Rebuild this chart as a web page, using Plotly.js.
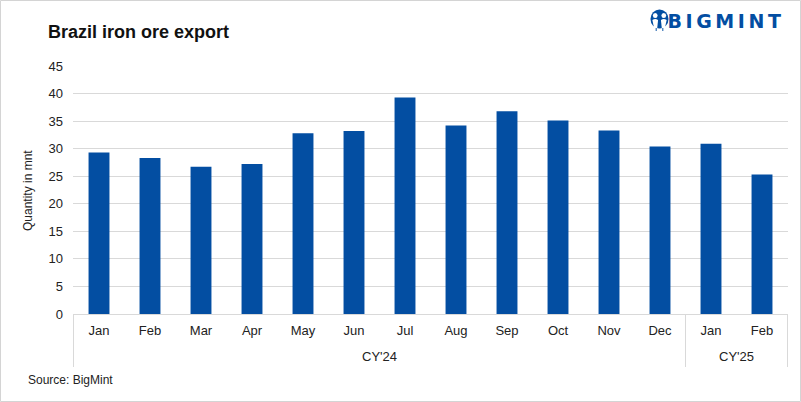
<!DOCTYPE html>
<html>
<head>
<meta charset="utf-8">
<script src="https://cdn.plot.ly/plotly-3.0.1.min.js"></script>
<style>
html,body{margin:0;padding:0;background:#fff;}
#chart{width:801px;height:402px;}
</style>
</head>
<body>
<div id="chart"></div>
<script>
const months = ['Jan','Feb','Mar','Apr','May','Jun','Jul','Aug','Sep','Oct','Nov','Dec','Jan','Feb'];
const years = ["CY'24","CY'24","CY'24","CY'24","CY'24","CY'24","CY'24","CY'24","CY'24","CY'24","CY'24","CY'24","CY'25","CY'25"];
const exportsMnt = [29.3, 28.3, 26.7, 27.2, 32.8, 33.2, 39.3, 34.2, 36.8, 35.1, 33.3, 30.4, 30.9, 25.3];
const yTicks = [0,5,10,15,20,25,30,35,40,45];

const W = 801, H = 402;
const L = 73, R = 13, T = 66, B = 88;
const pw = W - L - R, ph = H - T - B;
const px = v => (v - L) / pw;
const py = v => (H - B - v) / ph;

// category keys (unique per month+year), shown with month tick text
const cats = months.map((m, i) => m + ' ' + years[i]);

// year groups: first/last category index
const groups = [];
years.forEach((y, i) => {
  const g = groups[groups.length - 1];
  if (g && g.name === y) g.end = i; else groups.push({name: y, start: i, end: i});
});

const iconSvg = 'data:image/svg+xml;utf8,' + encodeURIComponent(
 '<svg xmlns="http://www.w3.org/2000/svg" width="40" height="46" viewBox="0 0 40 46">' +
 '<circle cx="20" cy="20" r="19" fill="#034ea2"/>' +
 '<circle cx="11" cy="13" r="5" fill="#fff"/><circle cx="29" cy="13" r="5" fill="#fff"/>' +
 '<path d="M5 22 Q11 18 17 22 L15 40 L9 40 Z" fill="#fff"/>' +
 '<path d="M23 22 Q29 18 35 22 L31 40 L25 40 Z" fill="#fff"/>' +
 '<circle cx="20" cy="20" r="3.5" fill="#034ea2"/>' +
 '<rect x="12" y="38" width="2" height="6" fill="#034ea2"/><rect x="26" y="38" width="2" height="6" fill="#034ea2"/>' +
 '</svg>');

const trace = {
  type: 'bar',
  x: cats,
  y: exportsMnt,
  marker: {color: '#034ea2'},
  hoverinfo: 'y'
};

const annotations = [
  {text: 'Quantity in mnt', xref: 'paper', yref: 'paper', x: px(28), y: py(190), textangle: -90,
   showarrow: false, xanchor: 'center', yanchor: 'middle', font: {size: 12, color: '#222'}},
  {text: 'Source: BigMint', xref: 'paper', yref: 'paper', x: px(26), y: py(380),
   showarrow: false, xanchor: 'left', yanchor: 'middle', font: {size: 12, color: '#222'}},
  {text: 'BIGMINT', xref: 'paper', yref: 'paper', x: px(678), y: py(21),
   showarrow: false, xanchor: 'left', yanchor: 'middle',
   font: {family: '"DejaVu Sans", sans-serif', size: 19, color: '#034ea2', weight: 'bold'}}
];
const shapes = [
  {type: 'rect', xref: 'paper', yref: 'paper', x0: px(0.5), x1: px(800.5), y0: py(401.5), y1: py(0.5),
   line: {color: '#d4d4d4', width: 1}, fillcolor: 'rgba(0,0,0,0)', layer: 'below'}
];
groups.forEach((g, k) => {
  annotations.push({text: g.name, xref: 'x', yref: 'paper', x: (g.start + g.end) / 2, y: py(356),
    showarrow: false, xanchor: 'center', yanchor: 'middle', font: {size: 13, color: '#222'}});
  if (k === 0) shapes.push({type: 'line', xref: 'x', yref: 'paper', x0: g.start - 0.5, x1: g.start - 0.5,
    y0: 0, y1: py(367), line: {color: '#d9d9d9', width: 1}});
  shapes.push({type: 'line', xref: 'x', yref: 'paper', x0: g.end + 0.5, x1: g.end + 0.5,
    y0: 0, y1: py(367), line: {color: '#d9d9d9', width: 1}});
});

const layout = {
  width: W, height: H,
  margin: {l: L, r: R, t: T, b: B, pad: 0},
  paper_bgcolor: '#fff', plot_bgcolor: '#fff',
  bargap: 0.59,
  showlegend: false,
  font: {family: '"Liberation Sans", Arial, sans-serif', size: 13, color: '#222'},
  title: {text: 'Brazil iron ore export', xref: 'container', yref: 'container', x: 48/W, xanchor: 'left', y: 1 - 32/H, yanchor: 'middle',
          font: {family: '"Liberation Sans", Arial, sans-serif', size: 18, color: '#111', weight: 'bold'}},
  xaxis: {
    type: 'category',
    tickvals: cats, ticktext: months,
    showline: true, linecolor: '#d9d9d9', linewidth: 1,
    showgrid: false, ticks: '',
    ticklabelstandoff: 4,
    tickfont: {size: 13, color: '#222'},
    automargin: false
  },
  yaxis: {
    range: [0, 45], tickvals: yTicks, ticktext: yTicks.map(String),
    showgrid: true, gridcolor: '#d9d9d9', gridwidth: 1,
    zeroline: false, showline: false, ticks: '',
    ticklabelstandoff: 9,
    tickfont: {size: 13, color: '#222'},
    automargin: false
  },
  annotations: annotations,
  shapes: shapes,
  images: [
    {source: iconSvg, xref: 'paper', yref: 'paper', x: px(650), y: py(9), sizex: 19/pw, sizey: 23/ph,
     xanchor: 'left', yanchor: 'top', sizing: 'stretch', layer: 'above'}
  ]
};

Plotly.newPlot('chart', [trace], layout, {displayModeBar: false, staticPlot: true}).then(() => {
  document.querySelectorAll('.annotation-text').forEach(t => {
    if (t.textContent === 'BIGMINT') t.style.letterSpacing = '3.6px';
  });
});
</script>
</body>
</html>
